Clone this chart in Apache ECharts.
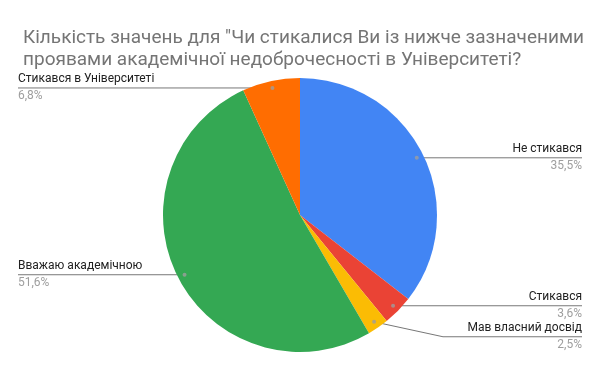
<!DOCTYPE html>
<html><head><meta charset="utf-8">
<script src="https://cdn.jsdelivr.net/npm/echarts@6/dist/echarts.min.js"></script>
<style>html,body{margin:0;padding:0;background:#fff}#c{width:600px;height:371px}</style>
</head><body><div id="c"></div>
<script>
const titleText = 'Кількість значень для "Чи стикалися Ви із нижче зазначеними\nпроявами академічної недоброчесності в Університеті?';
const categories = ['Не стикався', 'Стикався', 'Мав власний досвід', 'Вважаю академічною', 'Стикався в Університеті'];
const values = [35.5, 3.6, 2.5, 51.6, 6.8];
const colors = ['#4285F4', '#EA4335', '#FBBC04', '#34A853', '#FF6D01'];

const W = 600, CX = 300, CY = 215, R = 137, RD = 130, EDGE = 18;
const total = values.reduce((a, b) => a + b, 0);
let acc = 0;
const dots = values.map(v => { const mid = (acc + v / 2) / total * 100; acc += v; return [RD, mid]; });
const fmtPct = v => (v / total * 100).toFixed(1).replace('.', ',') + '%';

const chart = echarts.init(document.getElementById('c'), null, {renderer: 'canvas'});
chart.setOption({
  backgroundColor: '#fff',
  animation: false,
  title: {
    text: titleText, left: 18, top: 22,
    textStyle: {fontFamily: 'Roboto', fontSize: 19, fontWeight: 'normal', color: '#757575', lineHeight: 22}
  },
  polar: {center: [CX, CY], radius: R},
  angleAxis: {type: 'value', min: 0, max: 100, startAngle: 90, clockwise: true, show: false},
  radiusAxis: {type: 'value', min: 0, max: R, show: false},
  series: [
    {
      type: 'pie', center: [CX, CY], radius: R, startAngle: 90, clockwise: true,
      silent: true, label: {show: false}, labelLine: {show: false},
      data: categories.map((c, i) => ({name: c, value: values[i], itemStyle: {color: colors[i]}}))
    },
    {
      type: 'pie', center: [CX, CY], radius: RD, startAngle: 90, clockwise: true,
      left: 0, right: 0, top: 0, bottom: 0,
      silent: true,
      itemStyle: {color: 'rgba(0,0,0,0)'},
      label: {
        show: true, alignTo: 'edge', edgeDistance: EDGE, distanceToLabelLine: 0,
        formatter: p => '{n|' + p.name + '}\n{p|' + fmtPct(p.value) + '}',
        rich: {
          n: {fontFamily: 'Roboto', fontSize: 12, color: '#212121', lineHeight: 17},
          p: {fontFamily: 'Roboto', fontSize: 12, color: '#9e9e9e', lineHeight: 17}
        }
      },
      labelLine: {show: true, length: 0, length2: 10, smooth: false, lineStyle: {color: '#777777', width: 1}},
      labelLayout: function (params) {
        const pts = params.labelLinePoints;
        if (!pts) return {};
        const r = params.labelRect;
        const y = r.y + r.height / 2;
        const right = pts[0][0] > CX;
        const start = pts[0];
        const shifted = Math.abs(start[1] - y) > 2;
        let bendX = start[0];
        if (shifted) bendX = right ? CX + R + 6 : start[0] - 28;
        return {
          labelLinePoints: [start, [bendX, y], [right ? W - EDGE : EDGE, y]]
        };
      },
      data: categories.map((c, i) => ({name: c, value: values[i]}))
    },
    {
      type: 'scatter', coordinateSystem: 'polar', silent: true, z: 5,
      symbol: 'circle', symbolSize: 4, itemStyle: {color: '#9e9e9e'},
      data: dots
    }
  ]
});
</script></body></html>
